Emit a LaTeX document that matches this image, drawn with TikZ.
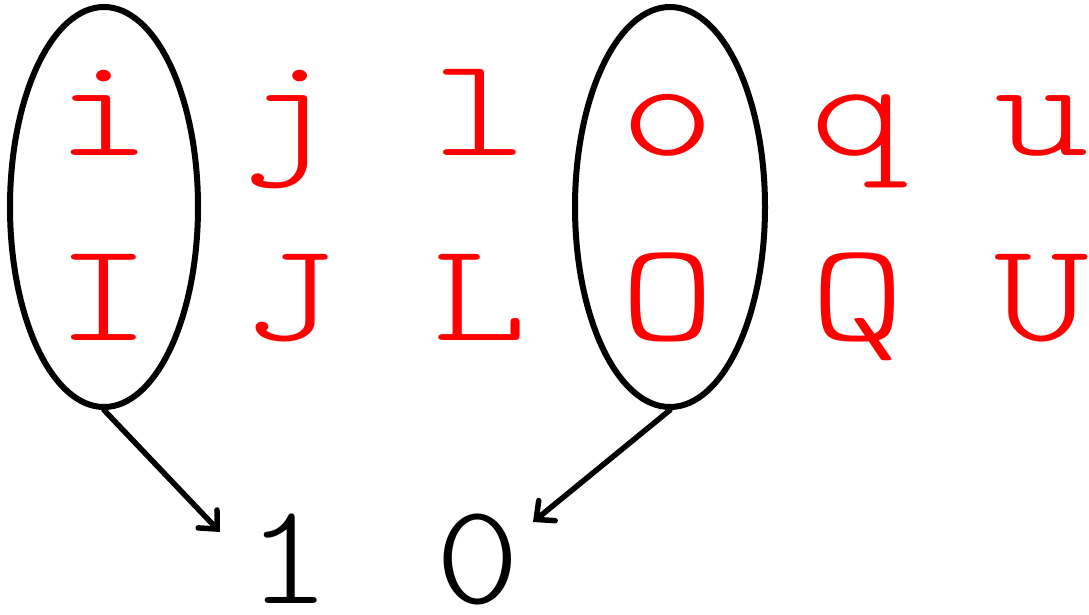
\documentclass[tikz,border=0pt]{standalone}
\usepackage{fontspec}
\setmonofont[FakeStretch=1.28]{Latin Modern Mono Light}
\newfontfamily\digfont[FakeStretch=1.12]{Latin Modern Mono Light}
\usetikzlibrary{arrows.meta,shapes.geometric}
\begin{document}
\begin{tikzpicture}[x=1pt,y=-1pt,
  ltr/.style={text=red,font=\ttfamily\fontsize{141}{141}\selectfont,anchor=base,inner sep=0pt},
  dig/.style={text=black,font=\digfont\fontsize{144}{144}\selectfont,anchor=base,inner sep=0pt},
  oval/.style={draw=black,line width=6pt},
  arr/.style={draw=black,line width=5.5pt,line cap=round,-{Straight Barb[length=14pt,width=26pt,line cap=round]}}]
\useasboundingbox (0,0) rectangle (1089,615);
\node[ltr] (li) at (104,155) {i};
\node[ltr] (lj) at (290,155) {j};
\node[ltr] (ll) at (480,155) {l};
\node[ltr] (lo) at (668,155) {o};
\node[ltr] (lq) at (858,155) {q};
\node[ltr] (lu) at (1042,155) {u};
\node[ltr] (ui) at (104,340) {I};
\node[ltr] (uj) at (290,340) {J};
\node[ltr] (ul) at (480,340) {L};
\node[ltr] (uo) at (668,340) {O};
\node[ltr] (uq) at (858,340) {Q};
\node[ltr] (uu) at (1042,340) {U};
\node[dig] (one) at (289,603) {1};
\node[dig] (zero) at (478,603) {0};
\node[oval,ellipse,minimum width=188pt,minimum height=400pt,inner sep=0pt] (e1) at (104,207) {};
\node[oval,ellipse,minimum width=190pt,minimum height=400pt,inner sep=0pt] (e2) at (670,207) {};
\coordinate (t1) at (220,532);
\coordinate (t2) at (533,522);
\draw[arr] (e1.south) -- (t1);
\draw[arr] (e2.south) -- (t2);
\end{tikzpicture}
\end{document}
